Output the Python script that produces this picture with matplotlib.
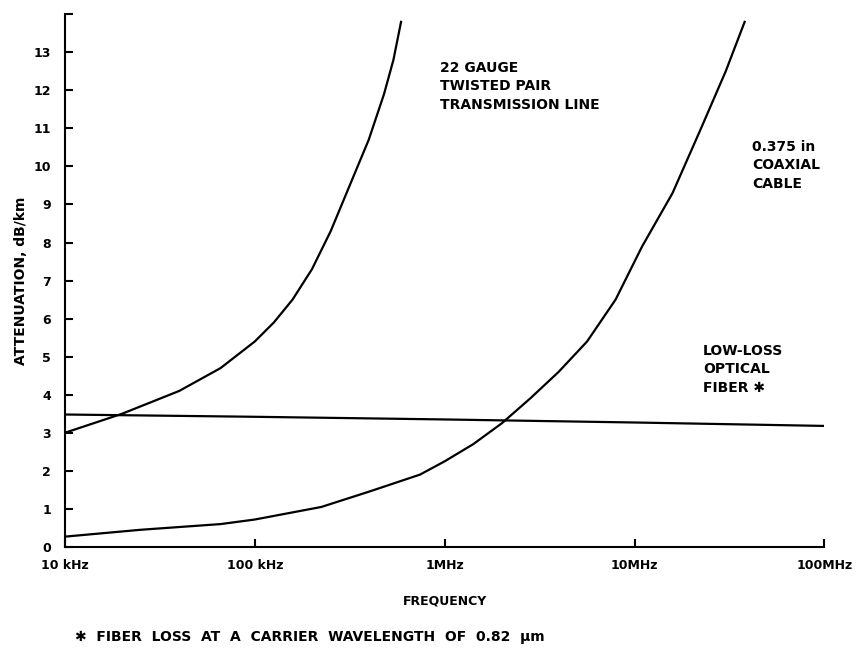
import matplotlib
matplotlib.use("Agg")
import matplotlib.pyplot as plt

# values (frequency in kHz, attenuation in dB/km)
twisted_khz = [10, 20, 40, 66, 100, 126, 158, 200, 251, 316, 398, 479, 537, 589]
twisted_att = [3.0, 3.5, 4.1, 4.7, 5.4, 5.9, 6.5, 7.3, 8.3, 9.5, 10.7, 11.9, 12.8, 13.8]

coax_khz = [10, 25, 66, 100, 224, 398, 741, 1000, 1413, 2000, 2818, 3981, 5623,
            7943, 10965, 15849, 22387, 30200, 38000]
coax_att = [0.27, 0.45, 0.6, 0.72, 1.05, 1.45, 1.9, 2.25, 2.7, 3.25, 3.9, 4.6, 5.4,
            6.5, 7.9, 9.3, 11.0, 12.5, 13.8]

fiber_khz = [10, 100, 1000, 10000, 100000]
fiber_att = [3.48, 3.42, 3.35, 3.27, 3.18]

xticks_khz = [10, 100, 1000, 10000, 100000]
xlabels = ["10 kHz", "100 kHz", "1MHz", "10MHz", "100MHz"]
yticks = list(range(0, 15))
ylabels = [str(v) for v in range(0, 14)] + [""]

fig = plt.figure(figsize=(8.66, 6.48), dpi=100)
ax = fig.add_axes([0.075, 0.156, 0.877, 0.822])

ax.plot(twisted_khz, twisted_att, color="black", lw=1.6)
ax.plot(coax_khz, coax_att, color="black", lw=1.6)
ax.plot(fiber_khz, fiber_att, color="black", lw=1.6)

ax.set_xscale("log")
ax.set_xlim(10, 100000)
ax.set_ylim(0, 14)
ax.set_xticks(xticks_khz)
ax.set_xticklabels(xlabels)
ax.minorticks_off()
ax.set_yticks(yticks)
ax.set_yticklabels(ylabels)

for s in ["top", "right"]:
    ax.spines[s].set_visible(False)
for s in ["left", "bottom"]:
    ax.spines[s].set_linewidth(1.5)

ax.tick_params(axis="both", direction="in", length=6, width=1.5, labelsize=9)
ax.tick_params(axis="x", pad=9)
ax.tick_params(axis="y", pad=10)
for lab in ax.get_xticklabels() + ax.get_yticklabels():
    lab.set_fontweight("bold")

ax.set_xlabel("FREQUENCY", fontsize=9, fontweight="bold", labelpad=16)
ax.set_ylabel("ATTENUATION, dB/km", fontsize=10, fontweight="bold", labelpad=4)

txt = dict(fontsize=10, fontweight="bold", transform=fig.transFigure,
           va="top", ha="left", linespacing=1.4)
fig.text(440 / 866, 1 - 61 / 648, "22 GAUGE\nTWISTED PAIR\nTRANSMISSION LINE", **txt)
fig.text(752 / 866, 1 - 140 / 648, "0.375 in\nCOAXIAL\nCABLE", **txt)
fig.text(703 / 866, 1 - 344 / 648, "LOW-LOSS\nOPTICAL\nFIBER \u2731", **txt)
fig.text(75 / 866, 1 - 637 / 648,
         "\u2731  FIBER  LOSS  AT  A  CARRIER  WAVELENGTH  OF  0.82  \u03bcm",
         fontsize=10, fontweight="bold", va="center", ha="left")

fig.savefig("out.png", dpi=100)
